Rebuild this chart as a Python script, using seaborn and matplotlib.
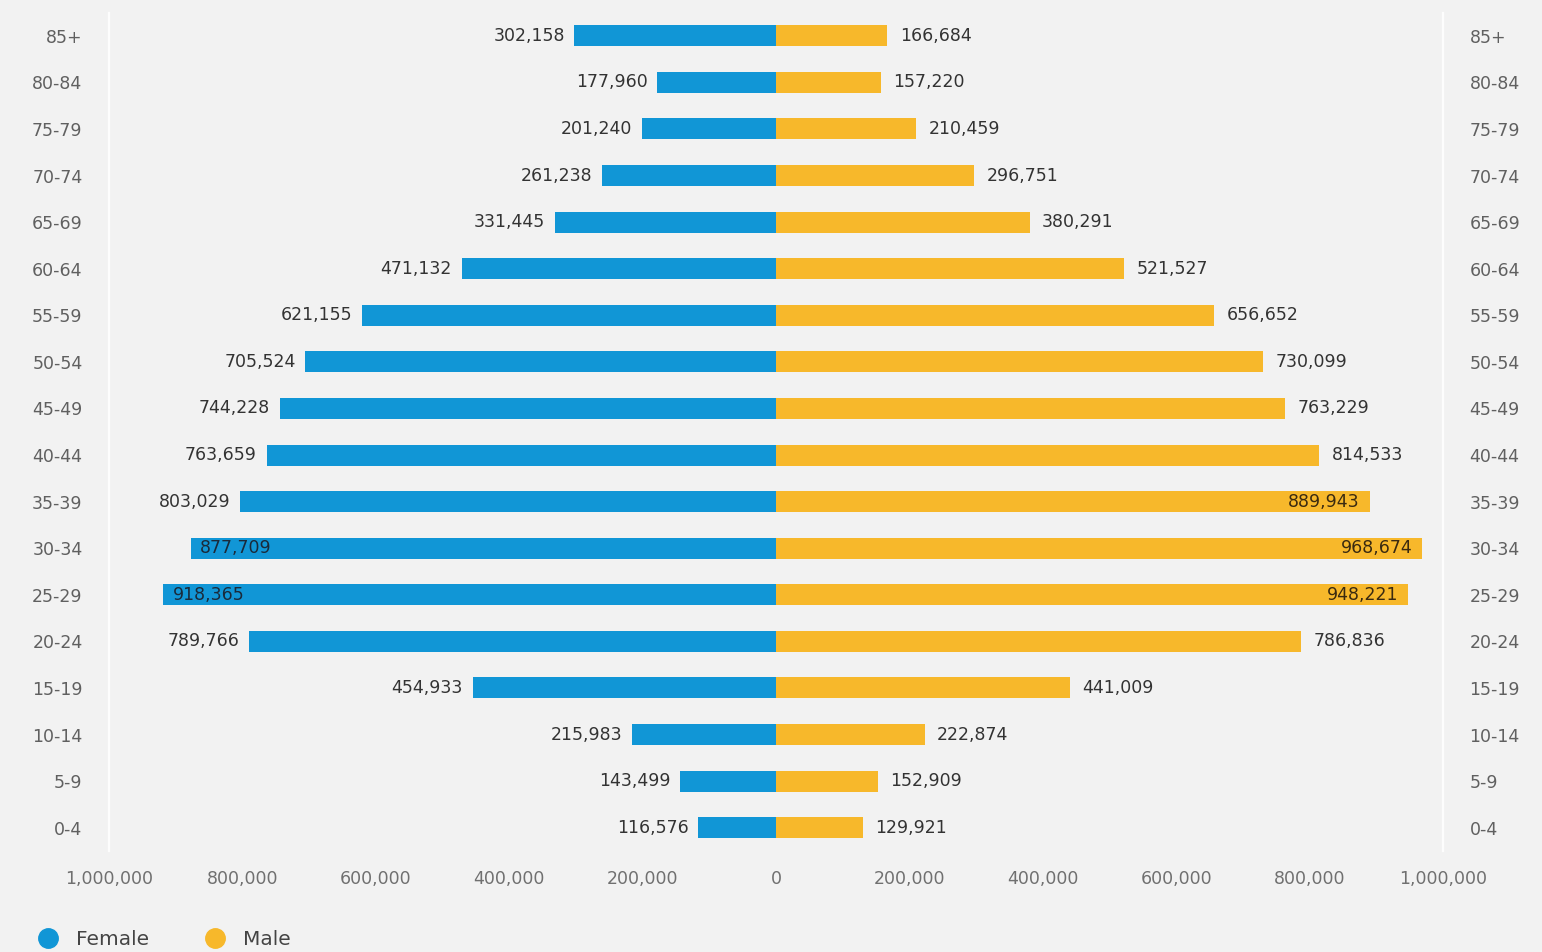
import matplotlib
matplotlib.use("Agg")
import matplotlib.pyplot as plt
from matplotlib.lines import Line2D
import seaborn as sns
import pandas as pd

ages = ["85+", "80-84", "75-79", "70-74", "65-69", "60-64", "55-59", "50-54",
        "45-49", "40-44", "35-39", "30-34", "25-29", "20-24", "15-19", "10-14",
        "5-9", "0-4"]
female = [302158, 177960, 201240, 261238, 331445, 471132, 621155, 705524,
          744228, 763659, 803029, 877709, 918365, 789766, 454933, 215983,
          143499, 116576]
male = [166684, 157220, 210459, 296751, 380291, 521527, 656652, 730099,
        763229, 814533, 889943, 968674, 948221, 786836, 441009, 222874,
        152909, 129921]
x_ticks = [-1000000, -800000, -600000, -400000, -200000, 0,
           200000, 400000, 600000, 800000, 1000000]
series_names = ["Female", "Male"]
colors = {"Female": "#1196d6", "Male": "#f7b82b"}
BG = "#f2f2f2"

sns.set_theme(style="white")
plt.rcParams["font.family"] = ["DejaVu Sans"]

df = pd.DataFrame({
    "age": ages * 2,
    "sex": ["Female"] * len(ages) + ["Male"] * len(ages),
    "value": female + male,
})
df["signed"] = [-v if s == "Female" else v for v, s in zip(df["value"], df["sex"])]

fig = plt.figure(figsize=(15.42, 9.52), dpi=100, facecolor=BG)
ax = fig.add_axes([109 / 1542, (952 - 851) / 952, (1443 - 109) / 1542, (851 - 12.5) / 952])
ax.set_facecolor(BG)

sns.barplot(data=df, y="age", x="signed", hue="sex", order=ages,
            hue_order=series_names, palette=colors, dodge=False, width=0.45,
            orient="h", legend=False, ax=ax, saturation=1, linewidth=0)

ax.set_xlim(-1000000, 1000000)
ax.set_ylim(len(ages) - 0.5, -0.5)
ax.set_xticks(x_ticks)
ax.set_xticklabels([f"{abs(t):,}" for t in x_ticks])
ax.set_xlabel("")
ax.set_ylabel("")

ax.tick_params(axis="x", length=0, pad=14, labelsize=12.5, labelcolor="#707070")
ax.tick_params(axis="y", length=0, pad=19, labelsize=12.5, labelcolor="#606060",
               labelleft=True, labelright=True)

for side in ["top", "bottom"]:
    ax.spines[side].set_visible(False)
for side in ["left", "right"]:
    ax.spines[side].set_color("#fdfdfd")
    ax.spines[side].set_linewidth(1.6)

inside_threshold = 850000
for i, (f, m) in enumerate(zip(female, male)):
    if f > inside_threshold:
        ax.annotate(f"{f:,}", xy=(-f, i), xytext=(7, 0), textcoords="offset points",
                    ha="left", va="center", fontsize=12.5, color="#1a2a3a")
    else:
        ax.annotate(f"{f:,}", xy=(-f, i), xytext=(-7, 0), textcoords="offset points",
                    ha="right", va="center", fontsize=12.5, color="#333333")
    if m > inside_threshold:
        ax.annotate(f"{m:,}", xy=(m, i), xytext=(-7, 0), textcoords="offset points",
                    ha="right", va="center", fontsize=12.5, color="#3a2a10")
    else:
        ax.annotate(f"{m:,}", xy=(m, i), xytext=(9, 0), textcoords="offset points",
                    ha="left", va="center", fontsize=12.5, color="#333333")

handles = [Line2D([0], [0], marker="o", linestyle="", markersize=14,
                  markerfacecolor=colors[n], markeredgecolor=colors[n], label=n)
           for n in series_names]
fig.legend(handles=handles, loc="center left", bbox_to_anchor=(0.006, 0.013),
           ncol=2, frameon=False, fontsize=14.5, handletextpad=0.4,
           columnspacing=2.3, labelcolor="#444444")

fig.savefig("out.png", dpi=100, facecolor=BG)
